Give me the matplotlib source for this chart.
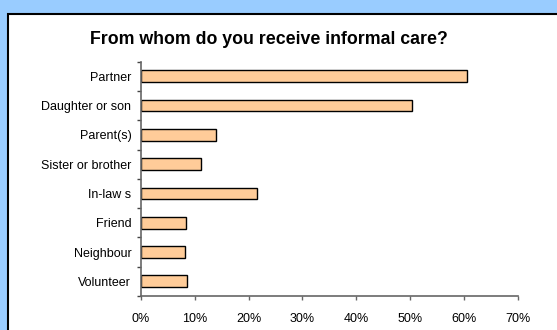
import matplotlib.pyplot as plt
from matplotlib.patches import Rectangle
from matplotlib.ticker import FixedLocator, FuncFormatter

plt.rcParams['font.family'] = ['Liberation Sans', 'DejaVu Sans']

# Share of respondents receiving informal care from each source (%)
carers = ['Partner', 'Daughter or son', 'Parent(s)', 'Sister or brother',
          'In-law s', 'Friend', 'Neighbour', 'Volunteer']
shares = [60.5, 50.3, 13.9, 11.1, 21.6, 8.4, 8.1, 8.6]
xticks = [0, 10, 20, 30, 40, 50, 60, 70]

fig = plt.figure(figsize=(5.57, 3.30), dpi=100, facecolor='#99CCFF')

# white chart area with a black frame, running off the right and bottom edges
panel = Rectangle((8 / 557, -0.05), 1.1, 1 - 14 / 330 + 0.05,
                  transform=fig.transFigure, facecolor='white',
                  edgecolor='black', linewidth=1.5, zorder=-1)
fig.patches.append(panel)

ax = fig.add_axes([141 / 557, 1 - 296 / 330, (517.7 - 141) / 557, (296 - 61.7) / 330])
ax.set_facecolor('none')
ax.set_zorder(2)

pos = list(range(len(carers)))
ax.barh(pos, shares, height=0.4, color='#FFCC99', edgecolor='black', linewidth=1)

ax.set_xlim(0, 70)
ax.set_ylim(len(carers) - 0.5, -0.5)

ax.set_xticks(xticks)
ax.xaxis.set_major_formatter(FuncFormatter(lambda v, p: f'{v:.0f}%'))
ax.tick_params(axis='x', length=3, width=1, color='#666666', labelsize=9, pad=9)

ax.set_yticks(pos)
ax.set_yticklabels(carers)
ax.tick_params(axis='y', which='major', length=0, labelsize=9, pad=7)
ax.yaxis.set_minor_locator(FixedLocator([p - 0.5 for p in pos] + [len(carers) - 0.5]))
ax.tick_params(axis='y', which='minor', length=3, width=1, color='#444444')

for side in ['top', 'right']:
    ax.spines[side].set_visible(False)
for side in ['left', 'bottom']:
    ax.spines[side].set_color('#666666')
    ax.spines[side].set_linewidth(1.2)

fig.text(268.5 / 557, 1 - 40 / 330, 'From whom do you receive informal care?',
         ha='center', va='center', fontsize=12.8, fontweight='bold', zorder=3)

fig.savefig('out.png', dpi=100, facecolor=fig.get_facecolor())
